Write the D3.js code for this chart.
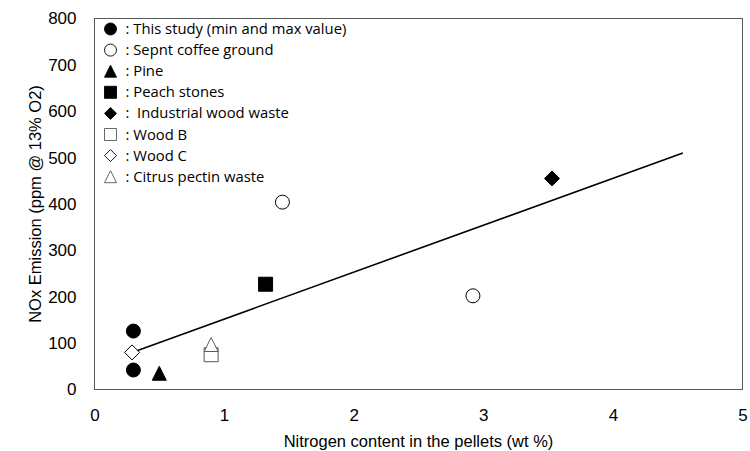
<!DOCTYPE html>
<html>
<head>
<meta charset="utf-8">
<script src="https://cdn.jsdelivr.net/npm/d3@7/dist/d3.min.js"></script>
<style>
  html, body { margin: 0; padding: 0; background: #fff; }
  svg { display: block; }
</style>
</head>
<body>
<svg id="chart" width="750" height="451"></svg>
<script>
// Nitrogen content (wt %) and NOx emission (ppm @ 13% O2) per fuel
const seriesNames = [
  "This study (min and max value)",
  "Sepnt coffee ground",
  "Pine",
  "Peach stones",
  " Industrial wood waste",
  "Wood B",
  "Wood C",
  "Citrus pectin waste"
];
const seriesShapes = ["circle", "circle", "triangle", "square", "diamond", "square", "diamond", "triangle"];
const seriesFilled = [true, false, true, true, true, false, false, false];

const thisStudyN = [0.3, 0.3];
const thisStudyNOx = [126, 42];
const coffeeN = [1.45, 2.92];
const coffeeNOx = [404, 202];
const pineN = [0.5];
const pineNOx = [35];
const peachN = [1.32];
const peachNOx = [227];
const industrialN = [3.53];
const industrialNOx = [455];
const woodBN = [0.9];
const woodBNOx = [75];
const woodCN = [0.29];
const woodCNOx = [80];
const citrusN = [0.9];
const citrusNOx = [97];

// linear trend line end points
const trendN = [0.29, 4.54];
const trendNOx = [80, 510];

const xTicks = [0, 1, 2, 3, 4, 5];
const yTicks = [0, 100, 200, 300, 400, 500, 600, 700, 800];

const seriesX = [thisStudyN, coffeeN, pineN, peachN, industrialN, woodBN, woodCN, citrusN];
const seriesY = [thisStudyNOx, coffeeNOx, pineNOx, peachNOx, industrialNOx, woodBNOx, woodCNOx, citrusNOx];

const svg = d3.select("#chart");
const plotL = 94.5, plotR = 742.5, plotT = 18.5, plotB = 389.5;

const x = d3.scaleLinear().domain([0, 5]).range([plotL, plotR]);
const y = d3.scaleLinear().domain([0, 800]).range([plotB, plotT]);

// marker path generator (centred at 0,0)
function markerPath(shape, s) {
  const h = s / 2;
  if (shape === "circle") {
    return d3.symbol().type(d3.symbolCircle).size(Math.PI * h * h)();
  }
  if (shape === "square") {
    return `M${-h},${-h}H${h}V${h}H${-h}Z`;
  }
  if (shape === "diamond") {
    return `M0,${-h}L${h},0L0,${h}L${-h},0Z`;
  }
  // triangle
  return `M0,${-h}L${h},${h}L${-h},${h}Z`;
}

// plot frame
svg.append("rect")
  .attr("x", plotL).attr("y", plotT)
  .attr("width", plotR - plotL).attr("height", plotB - plotT)
  .attr("fill", "none").attr("stroke", "#595959").attr("stroke-width", 1);

// axes (labels only, no tick marks)
const xAxis = d3.axisBottom(x).tickValues(xTicks).tickSize(0).tickPadding(19).tickFormat(d3.format("d"));
const gx = svg.append("g").attr("transform", `translate(0,${plotB})`).call(xAxis);
gx.select(".domain").remove();
gx.selectAll("text")
  .attr("font-family", "Liberation Sans, Arial, sans-serif")
  .attr("font-size", 17).attr("fill", "#000");

const yAxis = d3.axisLeft(y).tickValues(yTicks).tickSize(0).tickPadding(18).tickFormat(d3.format("d"));
const gy = svg.append("g").attr("transform", `translate(${plotL},0)`).call(yAxis);
gy.select(".domain").remove();
gy.selectAll("text")
  .attr("font-family", "Liberation Sans, Arial, sans-serif")
  .attr("font-size", 17).attr("fill", "#000");

// axis titles
svg.append("text")
  .attr("x", (plotL + plotR) / 2).attr("y", 447)
  .attr("text-anchor", "middle")
  .attr("font-family", "Liberation Sans, Arial, sans-serif")
  .attr("font-size", 16.5)
  .text("Nitrogen content in the pellets (wt %)");

svg.append("text")
  .attr("transform", `translate(41,${(plotT + plotB) / 2}) rotate(-90)`)
  .attr("text-anchor", "middle")
  .attr("font-family", "Liberation Sans, Arial, sans-serif")
  .attr("font-size", 16.5)
  .text("NOx Emission (ppm @ 13% O2)");

// trend line
svg.append("path")
  .datum(trendN.map((n, i) => [n, trendNOx[i]]))
  .attr("fill", "none").attr("stroke", "#000").attr("stroke-width", 1.6)
  .attr("d", d3.line().x(d => x(d[0])).y(d => y(d[1])));

// data markers
const markerSize = { circle: 14, square: 14, diamond: 15, triangle: 14 };
const strokeOf = i => seriesFilled[i] ? "#000"
  : (seriesShapes[i] === "triangle" || seriesShapes[i] === "square") ? "#595959" : "#000";
const points = [];
seriesX.forEach((xs, i) => xs.forEach((v, j) => points.push({ i, n: v, nox: seriesY[i][j] })));
svg.append("g").selectAll("path")
  .data(points)
  .join("path")
  .attr("transform", d => `translate(${x(d.n)},${y(d.nox)})`)
  .attr("d", d => markerPath(seriesShapes[d.i], markerSize[seriesShapes[d.i]]))
  .attr("fill", d => seriesFilled[d.i] ? "#000" : "#fff")
  .attr("stroke", d => strokeOf(d.i))
  .attr("stroke-width", 1);

// legend
const legend = svg.append("g");
const legendRows = legend.selectAll("g")
  .data(seriesNames.map((name, i) => ({ name, i })))
  .join("g")
  .attr("transform", d => `translate(110.5,${29 + d.i * 21.1})`);
legendRows.append("path")
  .attr("d", d => markerPath(seriesShapes[d.i], 12))
  .attr("fill", d => seriesFilled[d.i] ? "#000" : "#fff")
  .attr("stroke", d => strokeOf(d.i))
  .attr("stroke-width", 0.9);
legendRows.append("text")
  .attr("x", 15).attr("y", 5)
  .attr("font-family", "'Open Sans', Lato, sans-serif")
  .attr("font-size", 14.8)
  .style("white-space", "pre")
  .text(d => ": " + d.name);
</script>
</body>
</html>
